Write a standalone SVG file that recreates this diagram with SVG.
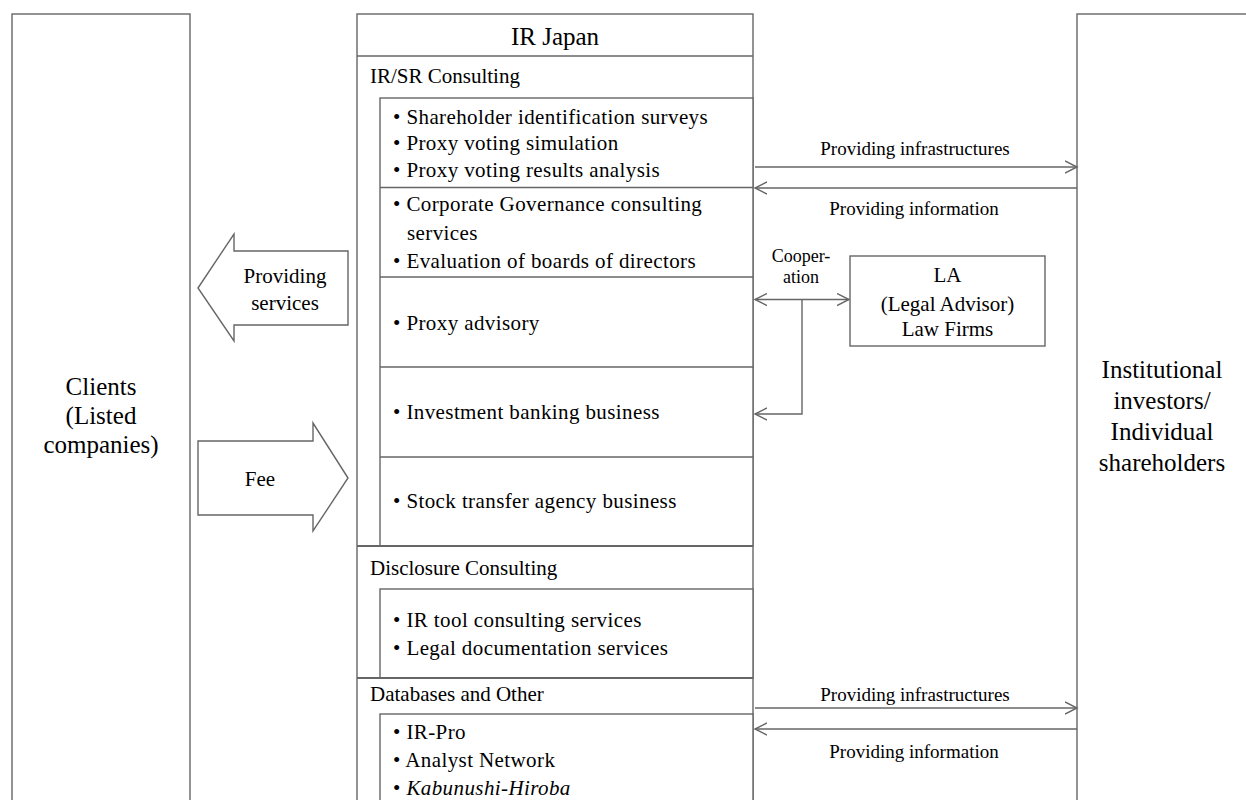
<svg xmlns="http://www.w3.org/2000/svg" width="1246" height="800" viewBox="0 0 1246 800">
<style>
.box{fill:#fff;stroke:#666;stroke-width:1.4}
.ln{fill:none;stroke:#666;stroke-width:1.4}
.big{font-family:"Liberation Serif",serif;font-size:25px;fill:#000;text-anchor:middle}
.hd{font-family:"Liberation Serif",serif;font-size:21px;fill:#000}
.bl{font-family:"Liberation Serif",serif;font-size:21px;fill:#000;letter-spacing:0.4px}
.lab{font-family:"Liberation Serif",serif;font-size:19px;fill:#000;text-anchor:middle}
.mid{font-family:"Liberation Serif",serif;font-size:21px;fill:#000;text-anchor:middle}
.con{fill:none;stroke:#666;stroke-width:1.4}
</style>
<defs>
<marker id="ah" markerUnits="userSpaceOnUse" markerWidth="14" markerHeight="14" refX="12" refY="7" orient="auto-start-reverse" viewBox="0 0 14 14">
<path d="M0,1 L12,7 L0,13" fill="none" stroke="#666" stroke-width="1.4"/>
</marker>
</defs>

<g id="clients">
<rect class="box" x="12" y="14" width="178" height="800"/>
<text class="big" x="101" y="395">Clients</text>
<text class="big" x="101" y="424">(Listed</text>
<text class="big" x="101" y="453">companies)</text>
</g>

<g id="investors">
<rect class="box" x="1077" y="14" width="200" height="800"/>
<text class="big" x="1162" y="378">Institutional</text>
<text class="big" x="1162" y="409">investors/</text>
<text class="big" x="1162" y="440">Individual</text>
<text class="big" x="1162" y="471">shareholders</text>
</g>

<g id="ir-japan">
<rect class="box" x="357" y="14" width="396" height="800"/>
<line class="ln" x1="357" y1="56" x2="753" y2="56"/>
<text class="big" x="555" y="45">IR Japan</text>
<text class="hd" x="370" y="83">IR/SR Consulting</text>
<rect class="box" x="380" y="98" width="373" height="448"/>
<line class="ln" x1="380" y1="187.5" x2="753" y2="187.5"/>
<line class="ln" x1="380" y1="277" x2="753" y2="277"/>
<line class="ln" x1="380" y1="367" x2="753" y2="367"/>
<line class="ln" x1="380" y1="457" x2="753" y2="457"/>
<line class="ln" x1="357" y1="546" x2="753" y2="546" style="stroke-width:1.8"/>
<text class="bl" x="393" y="124">• Shareholder identification surveys</text>
<text class="bl" x="393" y="150">• Proxy voting simulation</text>
<text class="bl" x="393" y="177">• Proxy voting results analysis</text>
<text class="bl" x="393" y="211">• Corporate Governance consulting</text>
<text class="bl" x="407" y="240">services</text>
<text class="bl" x="393" y="268">• Evaluation of boards of directors</text>
<text class="bl" x="393" y="330">• Proxy advisory</text>
<text class="bl" x="393" y="419">• Investment banking business</text>
<text class="bl" x="393" y="508">• Stock transfer agency business</text>
<text class="hd" x="370" y="575">Disclosure Consulting</text>
<rect class="box" x="380" y="589" width="373" height="89"/>
<line class="ln" x1="357" y1="678" x2="753" y2="678" style="stroke-width:1.8"/>
<text class="bl" x="393" y="627">• IR tool consulting services</text>
<text class="bl" x="393" y="655">• Legal documentation services</text>
<text class="hd" x="370" y="701">Databases and Other</text>
<rect class="box" x="380" y="714" width="373" height="100"/>
<text class="bl" x="393" y="739">• IR-Pro</text>
<text class="bl" x="393" y="767">• Analyst Network</text>
<text class="bl" x="393" y="795">• <tspan font-style="italic">Kabunushi-Hiroba</tspan></text>
</g>

<g id="la">
<rect class="box" x="850" y="256" width="195" height="90"/>
<text class="mid" x="947.5" y="282">LA</text>
<text class="mid" x="947.5" y="311">(Legal Advisor)</text>
<text class="mid" x="947.5" y="336">Law Firms</text>
</g>

<g id="arrow-services">
<path class="box" d="M198,288 L234,234 L234,251 L348,251 L348,325 L234,325 L234,341 Z"/>
<text class="mid" x="285" y="283">Providing</text>
<text class="mid" x="285" y="310">services</text>
</g>

<g id="arrow-fee">
<path class="box" d="M348,478 L313,423 L313,441 L198,441 L198,515 L313,515 L313,531 Z"/>
<text class="mid" x="260" y="486">Fee</text>
</g>

<g id="connectors">
<line class="con" x1="755" y1="167" x2="1077" y2="167" marker-end="url(#ah)"/>
<line class="con" x1="1077" y1="188" x2="755" y2="188" marker-end="url(#ah)"/>
<line class="con" x1="755" y1="299.5" x2="849" y2="299.5" marker-start="url(#ah)" marker-end="url(#ah)"/>
<polyline class="con" points="802,299.5 802,414 755,414" marker-end="url(#ah)"/>
<line class="con" x1="755" y1="708" x2="1077" y2="708" marker-end="url(#ah)"/>
<line class="con" x1="1077" y1="729" x2="755" y2="729" marker-end="url(#ah)"/>
<text class="lab" x="915" y="155">Providing infrastructures</text>
<text class="lab" x="914" y="215">Providing information</text>
<text class="lab" x="801" y="262" style="font-size:18px">Cooper-</text>
<text class="lab" x="801" y="283" style="font-size:18px">ation</text>
<text class="lab" x="915" y="701">Providing infrastructures</text>
<text class="lab" x="914" y="758">Providing information</text>
</g>
</svg>
